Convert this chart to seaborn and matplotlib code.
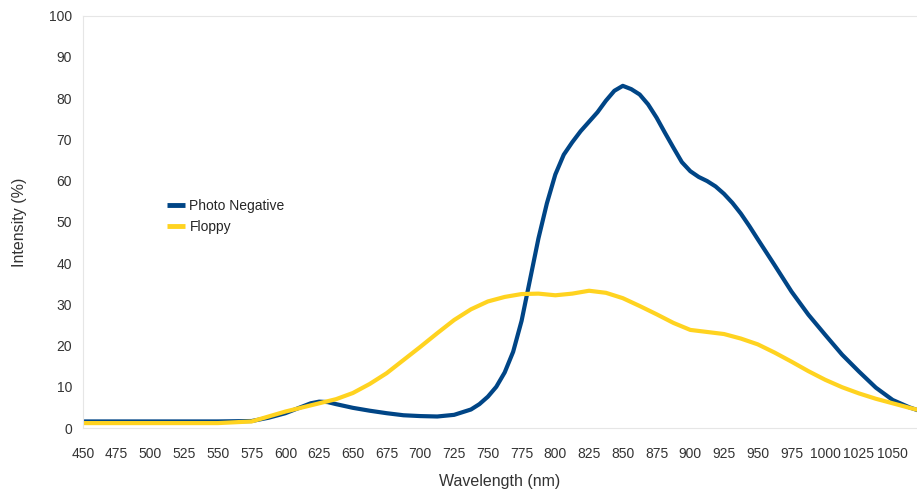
import matplotlib
matplotlib.use("Agg")
import matplotlib.pyplot as plt
import seaborn as sns
import numpy as np
import pandas as pd

# values (nm, %)
wavelength_pn = [450, 475, 500, 525, 550, 575, 587.5, 600, 612.5, 618.75, 625, 631.25, 637.5,
                 650, 662.5, 675, 687.5, 700, 712.5, 725, 737.5, 743.75, 750, 756.25, 762.5,
                 768.75, 775, 781.25, 787.5, 793.75, 800, 806.25, 812.5, 818.75, 825, 831.25,
                 837.5, 843.75, 850, 856.25, 862.5, 868.75, 875, 881.25, 887.5, 893.75, 900,
                 906.25, 912.5, 918.75, 925, 931.25, 937.5, 943.75, 950, 962.5, 975, 987.5,
                 1000, 1012.5, 1025, 1037.5, 1050, 1062.5, 1075]
photo_negative = [1.6, 1.6, 1.6, 1.6, 1.6, 1.7, 2.5, 3.6, 5.2, 6.0, 6.4, 6.3, 5.8,
                  4.9, 4.2, 3.6, 3.1, 2.9, 2.8, 3.2, 4.5, 5.8, 7.6, 10.0, 13.5,
                  18.5, 26, 36, 46, 54.5, 61.5, 66.3, 69.3, 72, 74.3, 76.6,
                  79.4, 81.8, 83, 82.2, 80.9, 78.5, 75.3, 71.6, 68, 64.5, 62.3,
                  60.9, 59.9, 58.6, 56.8, 54.6, 52.0, 49.0, 45.8, 39.5, 33.1, 27.5,
                  22.6, 17.8, 13.7, 9.8, 6.8, 5.0, 3.6]
wavelength_fl = [450, 475, 500, 525, 550, 575, 587.5, 600, 612.5, 625, 637.5, 650, 662.5, 675,
                 687.5, 700, 712.5, 725, 737.5, 750, 762.5, 775, 787.5, 800, 812.5, 825, 837.5,
                 850, 862.5, 875, 887.5, 900, 912.5, 925, 937.5, 950, 962.5, 975, 987.5, 1000,
                 1012.5, 1025, 1037.5, 1050, 1062.5, 1075]
floppy = [1.2, 1.2, 1.2, 1.2, 1.2, 1.6, 2.8, 4.0, 5.0, 6.0, 7.0, 8.5, 10.7, 13.3,
          16.5, 19.7, 23, 26.2, 28.8, 30.7, 31.8, 32.5, 32.6, 32.2, 32.6, 33.3, 32.8,
          31.5, 29.6, 27.6, 25.5, 23.8, 23.3, 22.8, 21.7, 20.3, 18.3, 16.1, 13.8, 11.7,
          9.9, 8.4, 7.1, 6.0, 4.9, 3.9]
series_names = ["Photo Negative", "Floppy"]
tick_labels = list(range(450, 1051, 25))

df = pd.concat([
    pd.DataFrame({"wavelength": wavelength_pn, "intensity": photo_negative, "series": series_names[0]}),
    pd.DataFrame({"wavelength": wavelength_fl, "intensity": floppy, "series": series_names[1]}),
])

sns.set_style("white")
plt.rcParams["font.family"] = ["Liberation Sans", "DejaVu Sans"]

fig = plt.figure(figsize=(9.17, 4.92), dpi=100)
ax = fig.add_axes([0.0905, 0.13, 0.9095, 0.838])

sns.lineplot(data=df, x="wavelength", y="intensity", hue="series", hue_order=series_names,
             palette=["#004586", "#ffd320"], linewidth=3.0, ax=ax, sort=False,
             solid_capstyle="round", solid_joinstyle="round")

ax.set_xlim(450, 1068)
ax.set_ylim(0, 100)
ax.set_xticks(tick_labels)
ax.set_xticklabels([str(t) for t in tick_labels])
ax.set_yticks(range(0, 101, 10))
ax.tick_params(axis="both", labelsize=10, colors="#dddddd", labelcolor="#333333",
               length=4, width=0.8, direction="out")
ax.tick_params(axis="x", pad=10)
ax.tick_params(axis="y", pad=4)

for side in ["left", "bottom", "top"]:
    ax.spines[side].set_color("#e6e6e6")
    ax.spines[side].set_linewidth(0.8)
ax.spines["right"].set_visible(False)

ax.set_xlabel("Wavelength (nm)", fontsize=11.5, color="#333333", labelpad=9)
ax.set_ylabel("Intensity (%)", fontsize=11.5, color="#333333", labelpad=16)

leg = ax.legend(loc="upper left", bbox_to_anchor=(0.086, 0.585), frameon=False,
                fontsize=10, handlelength=1.3, handletextpad=0.3, labelspacing=0.45)
for line in leg.get_lines():
    line.set_linewidth(3.5)
    line.set_solid_capstyle("butt")

fig.savefig("out.png", dpi=100)
